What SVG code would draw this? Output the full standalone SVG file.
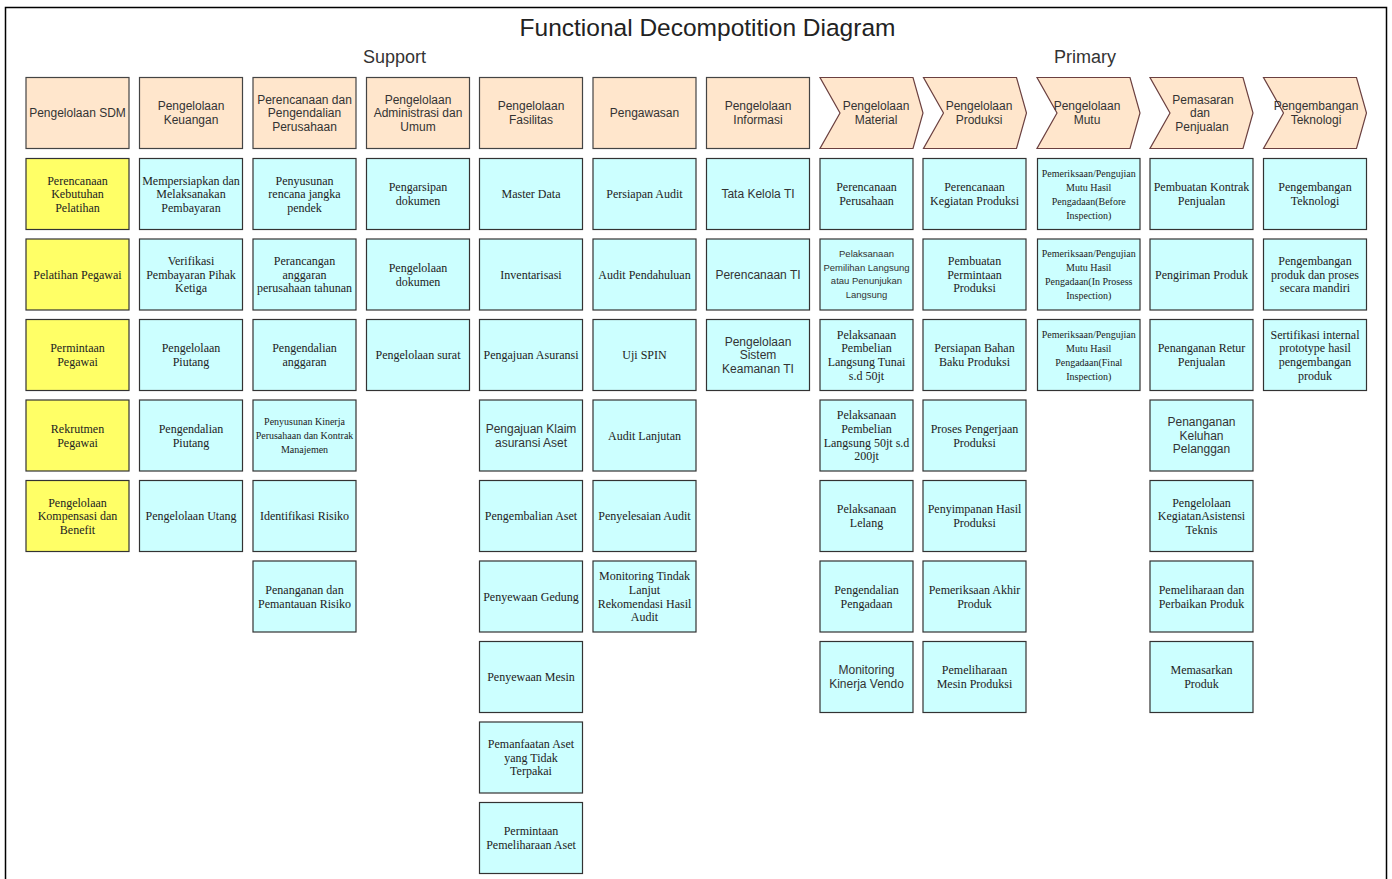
<svg xmlns="http://www.w3.org/2000/svg" width="1392" height="879" viewBox="0 0 1392 879">
<style>
.frame{fill:#fff;stroke:#000;stroke-width:1.5}
.hd{fill:#ffe6cc;stroke:#444;stroke-width:1.2}
.ch{fill:#ffe6cc;stroke:#6b4040;stroke-width:1.2}
.cy{fill:#ccffff;stroke:#333;stroke-width:1.2}
.ye{fill:#ffff66;stroke:#333;stroke-width:1.2}
text{text-anchor:middle;fill:#222}
.t{font-family:"Liberation Sans",Arial,sans-serif;font-size:24.5px;fill:#222}
.g{font-family:"Liberation Sans",Arial,sans-serif;font-size:18px;fill:#333}
.h{font-family:"Liberation Sans",Arial,sans-serif;font-size:12px;fill:#333}
.a{font-family:"Liberation Sans",Arial,sans-serif;font-size:12px;fill:#333}
.as{font-family:"Liberation Sans",Arial,sans-serif;font-size:9.5px;fill:#333}
.s{font-family:"Liberation Serif","Times New Roman",serif;font-size:12px}
.ss{font-family:"Liberation Serif","Times New Roman",serif;font-size:10px}
</style>
<rect class="frame" x="5.5" y="7.5" width="1381" height="900"/>
<text class="t" x="707.5" y="36">Functional Decompotition Diagram</text>
<text class="g" x="394.5" y="63">Support</text>
<text class="g" x="1085" y="63">Primary</text>
<g id="connectors"/>

<!-- Headers -->
<g id="h1"><rect class="hd" x="26" y="77.5" width="103" height="71"/><text class="h" x="77.5" y="117.2">Pengelolaan SDM</text></g>
<g id="h2"><rect class="hd" x="139.5" y="77.5" width="103" height="71"/><text class="h" x="191" y="110.35">Pengelolaan<tspan x="191" dy="13.7">Keuangan</tspan></text></g>
<g id="h3"><rect class="hd" x="253" y="77.5" width="103" height="71"/><text class="h" x="304.5" y="103.5">Perencanaan dan<tspan x="304.5" dy="13.7">Pengendalian</tspan><tspan x="304.5" dy="13.7">Perusahaan</tspan></text></g>
<g id="h4"><rect class="hd" x="366.5" y="77.5" width="103" height="71"/><text class="h" x="418" y="103.5">Pengelolaan<tspan x="418" dy="13.7">Administrasi dan</tspan><tspan x="418" dy="13.7">Umum</tspan></text></g>
<g id="h5"><rect class="hd" x="479.5" y="77.5" width="103" height="71"/><text class="h" x="531" y="110.35">Pengelolaan<tspan x="531" dy="13.7">Fasilitas</tspan></text></g>
<g id="h6"><rect class="hd" x="593" y="77.5" width="103" height="71"/><text class="h" x="644.5" y="117.2">Pengawasan</text></g>
<g id="h7"><rect class="hd" x="706.5" y="77.5" width="103" height="71"/><text class="h" x="758" y="110.35">Pengelolaan<tspan x="758" dy="13.7">Informasi</tspan></text></g>
<g id="h8"><path class="ch" d="M820,77.5 L913,77.5 L923,113 L913,148.5 L820,148.5 L840,113 Z"/><text class="h" x="876" y="110.35">Pengelolaan<tspan x="876" dy="13.7">Material</tspan></text></g>
<g id="h9"><path class="ch" d="M923.5,77.5 L1016.5,77.5 L1026.5,113 L1016.5,148.5 L923.5,148.5 L943.5,113 Z"/><text class="h" x="979" y="110.35">Pengelolaan<tspan x="979" dy="13.7">Produksi</tspan></text></g>
<g id="h10"><path class="ch" d="M1037,77.5 L1130,77.5 L1140,113 L1130,148.5 L1037,148.5 L1057,113 Z"/><text class="h" x="1087" y="110.35">Pengelolaan<tspan x="1087" dy="13.7">Mutu</tspan></text></g>
<g id="h11"><path class="ch" d="M1150,77.5 L1243,77.5 L1253,113 L1243,148.5 L1150,148.5 L1170,113 Z"/><text class="h" x="1203" y="103.5">Pemasaran<tspan x="1200" dy="13.7">dan</tspan><tspan x="1202" dy="13.7">Penjualan</tspan></text></g>
<g id="h12"><path class="ch" d="M1263.5,77.5 L1356.5,77.5 L1366.5,113 L1356.5,148.5 L1263.5,148.5 L1283.5,113 Z"/><text class="h" x="1316" y="110.35">Pengembangan<tspan x="1316" dy="13.7">Teknologi</tspan></text></g>

<!-- Column 1 -->
<g id="c1r1"><rect class="ye" x="26" y="158.5" width="103" height="71"/><text class="s" x="77.5" y="184.5">Perencanaan<tspan x="77.5" dy="13.7">Kebutuhan</tspan><tspan x="77.5" dy="13.7">Pelatihan</tspan></text></g>
<g id="c1r2"><rect class="ye" x="26" y="239" width="103" height="71"/><text class="s" x="77.5" y="278.7">Pelatihan Pegawai</text></g>
<g id="c1r3"><rect class="ye" x="26" y="319.5" width="103" height="71"/><text class="s" x="77.5" y="352.35">Permintaan<tspan x="77.5" dy="13.7">Pegawai</tspan></text></g>
<g id="c1r4"><rect class="ye" x="26" y="400" width="103" height="71"/><text class="s" x="77.5" y="432.85">Rekrutmen<tspan x="77.5" dy="13.7">Pegawai</tspan></text></g>
<g id="c1r5"><rect class="ye" x="26" y="480.5" width="103" height="71"/><text class="s" x="77.5" y="506.5">Pengelolaan<tspan x="77.5" dy="13.7">Kompensasi dan</tspan><tspan x="77.5" dy="13.7">Benefit</tspan></text></g>

<!-- Column 2 -->
<g id="c2r1"><rect class="cy" x="139.5" y="158.5" width="103" height="71"/><text class="s" x="191" y="184.5">Mempersiapkan dan<tspan x="191" dy="13.7">Melaksanakan</tspan><tspan x="191" dy="13.7">Pembayaran</tspan></text></g>
<g id="c2r2"><rect class="cy" x="139.5" y="239" width="103" height="71"/><text class="s" x="191" y="265">Verifikasi<tspan x="191" dy="13.7">Pembayaran Pihak</tspan><tspan x="191" dy="13.7">Ketiga</tspan></text></g>
<g id="c2r3"><rect class="cy" x="139.5" y="319.5" width="103" height="71"/><text class="s" x="191" y="352.35">Pengelolaan<tspan x="191" dy="13.7">Piutang</tspan></text></g>
<g id="c2r4"><rect class="cy" x="139.5" y="400" width="103" height="71"/><text class="s" x="191" y="432.85">Pengendalian<tspan x="191" dy="13.7">Piutang</tspan></text></g>
<g id="c2r5"><rect class="cy" x="139.5" y="480.5" width="103" height="71"/><text class="s" x="191" y="520.2">Pengelolaan Utang</text></g>

<!-- Column 3 -->
<g id="c3r1"><rect class="cy" x="253" y="158.5" width="103" height="71"/><text class="s" x="304.5" y="184.5">Penyusunan<tspan x="304.5" dy="13.7">rencana jangka</tspan><tspan x="304.5" dy="13.7">pendek</tspan></text></g>
<g id="c3r2"><rect class="cy" x="253" y="239" width="103" height="71"/><text class="s" x="304.5" y="265">Perancangan<tspan x="304.5" dy="13.7">anggaran</tspan><tspan x="304.5" dy="13.7">perusahaan tahunan</tspan></text></g>
<g id="c3r3"><rect class="cy" x="253" y="319.5" width="103" height="71"/><text class="s" x="304.5" y="352.35">Pengendalian<tspan x="304.5" dy="13.7">anggaran</tspan></text></g>
<g id="c3r4"><rect class="cy" x="253" y="400" width="103" height="71"/><text class="ss" x="304.5" y="425">Penyusunan Kinerja<tspan x="304.5" dy="14">Perusahaan dan Kontrak</tspan><tspan x="304.5" dy="14">Manajemen</tspan></text></g>
<g id="c3r5"><rect class="cy" x="253" y="480.5" width="103" height="71"/><text class="s" x="304.5" y="520.2">Identifikasi Risiko</text></g>
<g id="c3r6"><rect class="cy" x="253" y="561" width="103" height="71"/><text class="s" x="304.5" y="593.85">Penanganan dan<tspan x="304.5" dy="13.7">Pemantauan Risiko</tspan></text></g>

<!-- Column 4 -->
<g id="c4r1"><rect class="cy" x="366.5" y="158.5" width="103" height="71"/><text class="s" x="418" y="191.35">Pengarsipan<tspan x="418" dy="13.7">dokumen</tspan></text></g>
<g id="c4r2"><rect class="cy" x="366.5" y="239" width="103" height="71"/><text class="s" x="418" y="271.85">Pengelolaan<tspan x="418" dy="13.7">dokumen</tspan></text></g>
<g id="c4r3"><rect class="cy" x="366.5" y="319.5" width="103" height="71"/><text class="s" x="418" y="359.2">Pengelolaan surat</text></g>

<!-- Column 5 -->
<g id="c5r1"><rect class="cy" x="479.5" y="158.5" width="103" height="71"/><text class="s" x="531" y="198.2">Master Data</text></g>
<g id="c5r2"><rect class="cy" x="479.5" y="239" width="103" height="71"/><text class="s" x="531" y="278.7">Inventarisasi</text></g>
<g id="c5r3"><rect class="cy" x="479.5" y="319.5" width="103" height="71"/><text class="s" x="531" y="359.2">Pengajuan Asuransi</text></g>
<g id="c5r4"><rect class="cy" x="479.5" y="400" width="103" height="71"/><text class="a" x="531" y="432.85">Pengajuan Klaim<tspan x="531" dy="13.7">asuransi Aset</tspan></text></g>
<g id="c5r5"><rect class="cy" x="479.5" y="480.5" width="103" height="71"/><text class="s" x="531" y="520.2">Pengembalian Aset</text></g>
<g id="c5r6"><rect class="cy" x="479.5" y="561" width="103" height="71"/><text class="s" x="531" y="600.7">Penyewaan Gedung</text></g>
<g id="c5r7"><rect class="cy" x="479.5" y="641.5" width="103" height="71"/><text class="s" x="531" y="681.2">Penyewaan Mesin</text></g>
<g id="c5r8"><rect class="cy" x="479.5" y="722" width="103" height="71"/><text class="s" x="531" y="748">Pemanfaatan Aset<tspan x="531" dy="13.7">yang Tidak</tspan><tspan x="531" dy="13.7">Terpakai</tspan></text></g>
<g id="c5r9"><rect class="cy" x="479.5" y="802.5" width="103" height="71"/><text class="s" x="531" y="835.35">Permintaan<tspan x="531" dy="13.7">Pemeliharaan Aset</tspan></text></g>

<!-- Column 6 -->
<g id="c6r1"><rect class="cy" x="593" y="158.5" width="103" height="71"/><text class="s" x="644.5" y="198.2">Persiapan Audit</text></g>
<g id="c6r2"><rect class="cy" x="593" y="239" width="103" height="71"/><text class="s" x="644.5" y="278.7">Audit Pendahuluan</text></g>
<g id="c6r3"><rect class="cy" x="593" y="319.5" width="103" height="71"/><text class="s" x="644.5" y="359.2">Uji SPIN</text></g>
<g id="c6r4"><rect class="cy" x="593" y="400" width="103" height="71"/><text class="s" x="644.5" y="439.7">Audit Lanjutan</text></g>
<g id="c6r5"><rect class="cy" x="593" y="480.5" width="103" height="71"/><text class="s" x="644.5" y="520.2">Penyelesaian Audit</text></g>
<g id="c6r6"><rect class="cy" x="593" y="561" width="103" height="71"/><text class="s" x="644.5" y="580.15">Monitoring Tindak<tspan x="644.5" dy="13.7">Lanjut</tspan><tspan x="644.5" dy="13.7">Rekomendasi Hasil</tspan><tspan x="644.5" dy="13.7">Audit</tspan></text></g>

<!-- Column 7 -->
<g id="c7r1"><rect class="cy" x="706.5" y="158.5" width="103" height="71"/><text class="a" x="758" y="198.2">Tata Kelola TI</text></g>
<g id="c7r2"><rect class="cy" x="706.5" y="239" width="103" height="71"/><text class="a" x="758" y="278.7">Perencanaan TI</text></g>
<g id="c7r3"><rect class="cy" x="706.5" y="319.5" width="103" height="71"/><text class="a" x="758" y="345.5">Pengelolaan<tspan x="758" dy="13.7">Sistem</tspan><tspan x="758" dy="13.7">Keamanan TI</tspan></text></g>

<!-- Column 8 -->
<g id="c8r1"><rect class="cy" x="820" y="158.5" width="93" height="71"/><text class="s" x="866.5" y="191.35">Perencanaan<tspan x="866.5" dy="13.7">Perusahaan</tspan></text></g>
<g id="c8r2"><rect class="cy" x="820" y="239" width="93" height="71"/><text class="as" x="866.5" y="257">Pelaksanaan<tspan x="866.5" dy="13.7">Pemilihan Langsung</tspan><tspan x="866.5" dy="13.7">atau Penunjukan</tspan><tspan x="866.5" dy="13.7">Langsung</tspan></text></g>
<g id="c8r3"><rect class="cy" x="820" y="319.5" width="93" height="71"/><text class="s" x="866.5" y="338.65">Pelaksanaan<tspan x="866.5" dy="13.7">Pembelian</tspan><tspan x="866.5" dy="13.7">Langsung Tunai</tspan><tspan x="866.5" dy="13.7">s.d 50jt</tspan></text></g>
<g id="c8r4"><rect class="cy" x="820" y="400" width="93" height="71"/><text class="s" x="866.5" y="419.15">Pelaksanaan<tspan x="866.5" dy="13.7">Pembelian</tspan><tspan x="866.5" dy="13.7">Langsung 50jt s.d</tspan><tspan x="866.5" dy="13.7">200jt</tspan></text></g>
<g id="c8r5"><rect class="cy" x="820" y="480.5" width="93" height="71"/><text class="s" x="866.5" y="513.35">Pelaksanaan<tspan x="866.5" dy="13.7">Lelang</tspan></text></g>
<g id="c8r6"><rect class="cy" x="820" y="561" width="93" height="71"/><text class="s" x="866.5" y="593.85">Pengendalian<tspan x="866.5" dy="13.7">Pengadaan</tspan></text></g>
<g id="c8r7"><rect class="cy" x="820" y="641.5" width="93" height="71"/><text class="a" x="866.5" y="674.35">Monitoring<tspan x="866.5" dy="13.7">Kinerja Vendo</tspan></text></g>

<!-- Column 9 -->
<g id="c9r1"><rect class="cy" x="923" y="158.5" width="103" height="71"/><text class="s" x="974.5" y="191.35">Perencanaan<tspan x="974.5" dy="13.7">Kegiatan Produksi</tspan></text></g>
<g id="c9r2"><rect class="cy" x="923" y="239" width="103" height="71"/><text class="s" x="974.5" y="265">Pembuatan<tspan x="974.5" dy="13.7">Permintaan</tspan><tspan x="974.5" dy="13.7">Produksi</tspan></text></g>
<g id="c9r3"><rect class="cy" x="923" y="319.5" width="103" height="71"/><text class="s" x="974.5" y="352.35">Persiapan Bahan<tspan x="974.5" dy="13.7">Baku Produksi</tspan></text></g>
<g id="c9r4"><rect class="cy" x="923" y="400" width="103" height="71"/><text class="s" x="974.5" y="432.85">Proses Pengerjaan<tspan x="974.5" dy="13.7">Produksi</tspan></text></g>
<g id="c9r5"><rect class="cy" x="923" y="480.5" width="103" height="71"/><text class="s" x="974.5" y="513.35">Penyimpanan Hasil<tspan x="974.5" dy="13.7">Produksi</tspan></text></g>
<g id="c9r6"><rect class="cy" x="923" y="561" width="103" height="71"/><text class="s" x="974.5" y="593.85">Pemeriksaan Akhir<tspan x="974.5" dy="13.7">Produk</tspan></text></g>
<g id="c9r7"><rect class="cy" x="923" y="641.5" width="103" height="71"/><text class="s" x="974.5" y="674.35">Pemeliharaan<tspan x="974.5" dy="13.7">Mesin Produksi</tspan></text></g>

<!-- Column 10 -->
<g id="c10r1"><rect class="cy" x="1037.5" y="158.5" width="102.5" height="71"/><text class="ss" x="1088.75" y="176.5">Pemeriksaan/Pengujian<tspan x="1088.75" dy="14">Mutu Hasil</tspan><tspan x="1088.75" dy="14">Pengadaan(Before</tspan><tspan x="1088.75" dy="14">Inspection)</tspan></text></g>
<g id="c10r2"><rect class="cy" x="1037.5" y="239" width="102.5" height="71"/><text class="ss" x="1088.75" y="257">Pemeriksaan/Pengujian<tspan x="1088.75" dy="14">Mutu Hasil</tspan><tspan x="1088.75" dy="14">Pengadaan(In Prosess</tspan><tspan x="1088.75" dy="14">Inspection)</tspan></text></g>
<g id="c10r3"><rect class="cy" x="1037.5" y="319.5" width="102.5" height="71"/><text class="ss" x="1088.75" y="337.5">Pemeriksaan/Pengujian<tspan x="1088.75" dy="14">Mutu Hasil</tspan><tspan x="1088.75" dy="14">Pengadaan(Final</tspan><tspan x="1088.75" dy="14">Inspection)</tspan></text></g>

<!-- Column 11 -->
<g id="c11r1"><rect class="cy" x="1150" y="158.5" width="103" height="71"/><text class="s" x="1201.5" y="191.35">Pembuatan Kontrak<tspan x="1201.5" dy="13.7">Penjualan</tspan></text></g>
<g id="c11r2"><rect class="cy" x="1150" y="239" width="103" height="71"/><text class="s" x="1201.5" y="278.7">Pengiriman Produk</text></g>
<g id="c11r3"><rect class="cy" x="1150" y="319.5" width="103" height="71"/><text class="s" x="1201.5" y="352.35">Penanganan Retur<tspan x="1201.5" dy="13.7">Penjualan</tspan></text></g>
<g id="c11r4"><rect class="cy" x="1150" y="400" width="103" height="71"/><text class="a" x="1201.5" y="426">Penanganan<tspan x="1201.5" dy="13.7">Keluhan</tspan><tspan x="1201.5" dy="13.7">Pelanggan</tspan></text></g>
<g id="c11r5"><rect class="cy" x="1150" y="480.5" width="103" height="71"/><text class="s" x="1201.5" y="506.5">Pengelolaan<tspan x="1201.5" dy="13.7">KegiatanAsistensi</tspan><tspan x="1201.5" dy="13.7">Teknis</tspan></text></g>
<g id="c11r6"><rect class="cy" x="1150" y="561" width="103" height="71"/><text class="s" x="1201.5" y="593.85">Pemeliharaan dan<tspan x="1201.5" dy="13.7">Perbaikan Produk</tspan></text></g>
<g id="c11r7"><rect class="cy" x="1150" y="641.5" width="103" height="71"/><text class="s" x="1201.5" y="674.35">Memasarkan<tspan x="1201.5" dy="13.7">Produk</tspan></text></g>

<!-- Column 12 -->
<g id="c12r1"><rect class="cy" x="1263.5" y="158.5" width="103" height="71"/><text class="s" x="1315" y="191.35">Pengembangan<tspan x="1315" dy="13.7">Teknologi</tspan></text></g>
<g id="c12r2"><rect class="cy" x="1263.5" y="239" width="103" height="71"/><text class="s" x="1315" y="265">Pengembangan<tspan x="1315" dy="13.7">produk dan proses</tspan><tspan x="1315" dy="13.7">secara mandiri</tspan></text></g>
<g id="c12r3"><rect class="cy" x="1263.5" y="319.5" width="103" height="71"/><text class="s" x="1315" y="338.65">Sertifikasi internal<tspan x="1315" dy="13.7">prototype hasil</tspan><tspan x="1315" dy="13.7">pengembangan</tspan><tspan x="1315" dy="13.7">produk</tspan></text></g>
</svg>
